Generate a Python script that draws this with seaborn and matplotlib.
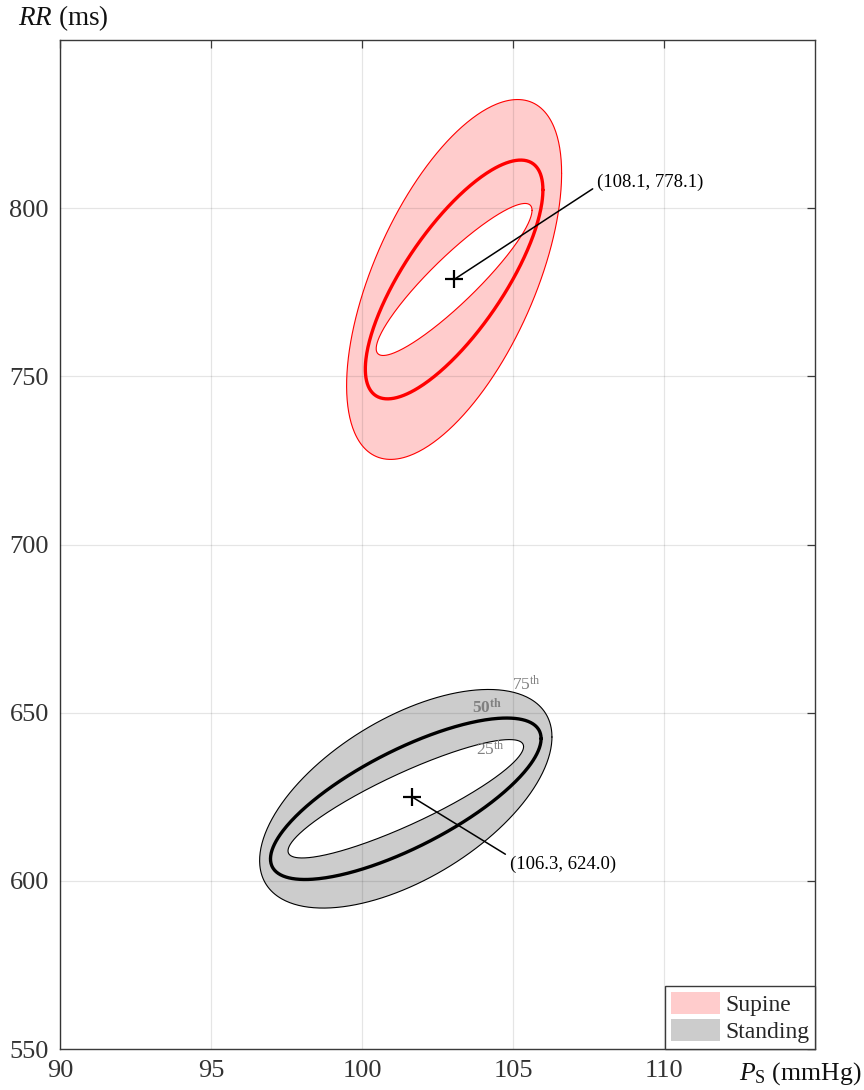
import numpy as np
import pandas as pd
import matplotlib
matplotlib.use("Agg")
import matplotlib.pyplot as plt
from matplotlib.path import Path
from matplotlib.patches import PathPatch, Patch
import seaborn as sns

# ---- data -------------------------------------------------------------
conditions = ["Supine", "Standing"]
fill_colors = ["#FFCCCC", "#CCCCCC"]
edge_colors = ["#FF0000", "#000000"]

# centre of the percentile contours (Ps in mmHg, RR in ms)
center_ps = [103.05, 101.45]
center_rr = [778.8, 624.4]
# location of the marked point and its annotation text
marker_ps = [103.05, 101.65]
marker_rr = [778.8, 625.0]
marker_text = ["(108.1, 778.1)", "(106.3, 624.0)"]

percentiles = [25, 50, 75]
# half-extent along Ps, half-extent along RR and correlation of each contour
half_ps = {"Supine": [2.58, 2.94, 3.56], "Standing": [3.90, 4.48, 4.84]}
half_rr = {"Supine": [22.6, 35.5, 53.5], "Standing": [17.6, 24.0, 32.5]}
corr = {"Supine": [0.91, 0.75, 0.59], "Standing": [0.88, 0.745, 0.565]}

# percentile tags on the standing contours
tag_text = ["25$^{\\rm th}$", "$\\mathbf{50^{th}}$", "75$^{\\rm th}$"]
tag_ps = [104.25, 104.13, 105.46]
tag_rr = [638.9, 651.4, 658.3]

x_ticks = [90, 95, 100, 105, 110]
y_ticks = [550, 600, 650, 700, 750, 800]
x_lim = (90, 115)
y_lim = (550, 850)

# ---- style ------------------------------------------------------------
sns.set_theme(style="white")
plt.rcParams["font.family"] = ["Liberation Serif", "DejaVu Serif"]
plt.rcParams["mathtext.fontset"] = "custom"
plt.rcParams["mathtext.rm"] = "Liberation Serif"
plt.rcParams["mathtext.it"] = "Liberation Serif:italic"
plt.rcParams["mathtext.bf"] = "Liberation Serif:bold"

axis_color = "#3a3a3a"

fig = plt.figure(figsize=(8.64, 10.90), dpi=100)
ax = fig.add_axes([60 / 864, 41 / 1090, 755 / 864, 1009 / 1090])


def contour(cx, cy, a, b, r, n=400):
    t = np.linspace(0, 2 * np.pi, n)
    x = cx + a * np.cos(t)
    y = cy + b * (r * np.cos(t) + np.sqrt(1 - r * r) * np.sin(t))
    return x, y


for i, cond in enumerate(conditions):
    curves = [contour(center_ps[i], center_rr[i], half_ps[cond][k],
                      half_rr[cond][k], corr[cond][k]) for k in range(3)]
    # shaded band between the 25th and 75th percentile contours
    xo, yo = curves[2]
    xi, yi = curves[0]
    verts = np.concatenate([np.column_stack([xo, yo]),
                            np.column_stack([xi[::-1], yi[::-1]])])
    codes = np.full(len(verts), Path.LINETO)
    codes[0] = Path.MOVETO
    codes[len(xo)] = Path.MOVETO
    ax.add_patch(PathPatch(Path(verts, codes), facecolor=fill_colors[i],
                           edgecolor="none", zorder=1))
    for k, (x, y) in enumerate(curves):
        df = pd.DataFrame({"Ps": x, "RR": y})
        sns.lineplot(data=df, x="Ps", y="RR", sort=False, estimator=None,
                     color=edge_colors[i], linewidth=2.4 if k == 1 else 0.8,
                     ax=ax, zorder=3)

# centre markers
pts = pd.DataFrame({"Ps": marker_ps, "RR": marker_rr})
sns.scatterplot(data=pts, x="Ps", y="RR", marker="+", s=160, color="black",
                linewidth=1.6, ax=ax, zorder=5)

# annotations
offsets = [(143, 97), (98, -68)]
relpos = [(0.0, 0.3), (0.0, 0.95)]
for i in range(len(conditions)):
    ax.annotate(marker_text[i], xy=(marker_ps[i], marker_rr[i]),
                xytext=offsets[i], textcoords="offset pixels",
                ha="left", va="center", fontsize=13.5, color="black",
                arrowprops=dict(arrowstyle="-", color="black", lw=1.1,
                                relpos=relpos[i], shrinkA=1, shrinkB=0),
                zorder=6)

for txt, px, py in zip(tag_text, tag_ps, tag_rr):
    ax.text(px, py, txt, ha="center", va="center", fontsize=12.5,
            color="#808080", zorder=6)

# ---- axes -------------------------------------------------------------
ax.set_xlim(*x_lim)
ax.set_ylim(*y_lim)
ax.set_xticks(x_ticks)
ax.set_yticks(y_ticks)
ax.set_xlabel("")
ax.set_ylabel("")
ax.grid(True, color="#000000", alpha=0.1, linewidth=0.9)
ax.set_axisbelow(False)
ax.tick_params(direction="in", length=6, width=0.9, color=axis_color,
               labelcolor="#333333", labelsize=19, pad=8,
               top=True, right=True)
for sp in ax.spines.values():
    sp.set_visible(True)
    sp.set_color(axis_color)
    sp.set_linewidth(1.0)

fig.text(18 / 864, 1 - 18 / 1090, "$RR$ (ms)", ha="left", va="center",
         fontsize=19.5, color="#111111")
fig.text(861 / 864, 1 - 1074 / 1090, "$P_{\\rm S}$ (mmHg)", ha="right",
         va="center", fontsize=18.5, color="#111111")

handles = [Patch(facecolor=c, edgecolor="none", label=l)
           for c, l in zip(fill_colors, conditions)]
leg = ax.legend(handles=handles, loc="lower right", fontsize=17,
                frameon=True, fancybox=False, framealpha=1,
                borderaxespad=0, borderpad=0.25, handlelength=2.1,
                handleheight=1.05, handletextpad=0.2, labelspacing=0.12)
leg.get_frame().set_edgecolor(axis_color)
leg.get_frame().set_linewidth(1.0)
leg.set_zorder(10)

fig.savefig("out.png", dpi=100)
